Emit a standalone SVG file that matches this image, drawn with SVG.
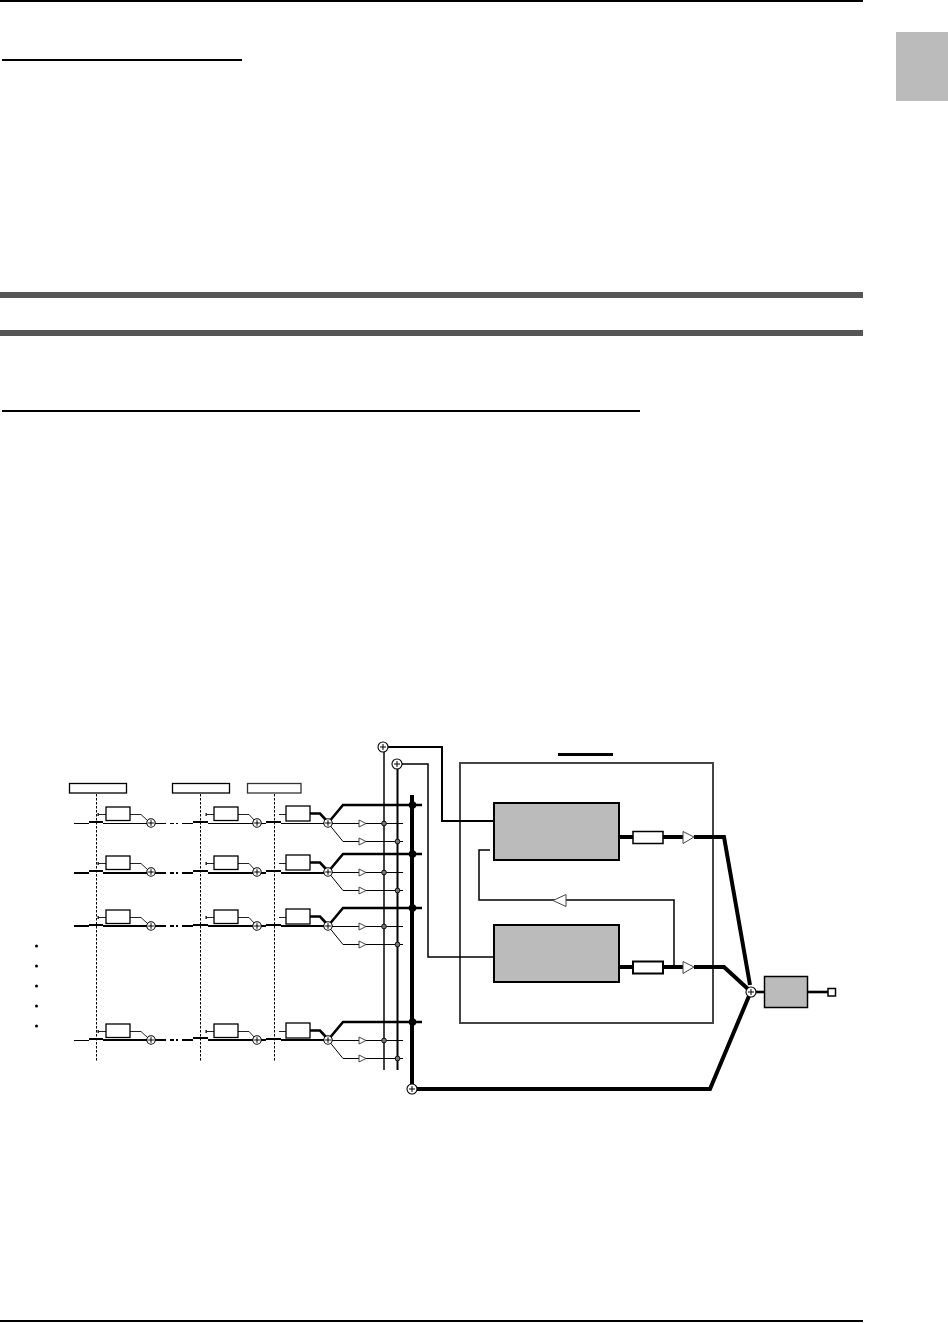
<svg xmlns="http://www.w3.org/2000/svg" width="948" height="1323" viewBox="0 0 948 1323">
<style>
.l{fill:none;stroke:#000;stroke-width:1}
.g{fill:none;stroke:#222;stroke-width:1}
.m{fill:none;stroke:#000;stroke-width:2}
.t{fill:none;stroke:#000;stroke-width:2.600}
.h{fill:none;stroke:#000;stroke-width:4}
.b{fill:#fff;stroke:#000;stroke-width:1.300}
.k{fill:#bbb;stroke:#000;stroke-width:2}
.s{fill:#fff;stroke:#000;stroke-width:1.100}
.tri{fill:#fff;stroke:#444;stroke-width:1}
.d{fill:none;stroke:#000;stroke-width:1;stroke-dasharray:2.500 1.500}
.j{fill:#777;stroke:#000;stroke-width:.9}
</style>
<defs>
<g id="sum"><circle r="4.200" class="s"/><path d="M-2.800 0H2.800M0-2.800V2.800" class="l"/></g>
<g id="bigsum"><circle r="5" class="s"/><path d="M-3 0H3M0-3V3" class="l"/></g>
<g id="chan">
<path d="M98 814.500H106M130 814.500H141L148 821" class="g"/><path d="M98 813L99 814.500L98 816Z" class="g"/>
<path d="M206 814.500H214M238 814.500H249L255 821" class="g"/>
<path d="M206 813L207 814.500L206 816Z" class="g"/>
<path d="M279 814.500H286" class="g"/>
<rect x="106" y="807" width="24" height="13.500" class="b"/>
<rect x="214" y="807" width="24" height="13.500" class="b"/>
<rect x="286" y="806" width="24" height="15" class="b"/>
<use href="#sum" x="151" y="823"/><use href="#sum" x="257" y="823"/>
<path d="M310 813.500H320L326 820" class="t"/>
<path d="M328 823L343 805H422" class="t"/>
<path d="M328 823.500H403M328 823L343 841.500H403" class="l"/>
<path d="M359 820L366 823.500L359 827Z" class="tri"/>
<path d="M359 838L366 841.500L359 845Z" class="tri"/>
<use href="#sum" x="328" y="823"/>
<circle cx="384" cy="823.500" r="2.400" class="j"/><circle cx="397.500" cy="841.500" r="2.400" class="j"/>
</g>
</defs>

<g id="page">
<rect x="0" y="0" width="863" height="2" fill="#000"/>
<rect x="2" y="59" width="240" height="2" fill="#000"/>
<rect x="896" y="32" width="52" height="69" fill="#bbb"/>
<rect x="0" y="292" width="863" height="6" fill="#555"/>
<rect x="0" y="330" width="863" height="6" fill="#555"/>
<rect x="2" y="410" width="638" height="2" fill="#000"/>
<rect x="0" y="1320" width="863" height="2" fill="#000"/>
</g>

<g id="outer-box"><rect x="460" y="763" width="253" height="260" fill="none" stroke="#444" stroke-width="2"/>
<rect x="558" y="753" width="55" height="3" fill="#000"/></g>

<g id="connectors">
<path d="M96.500 794V1061M200.500 794V1061M274.500 794V1061" class="d"/>
<path d="M384 747V1070" fill="none" stroke="#444" stroke-width="2"/>
<path d="M397.500 764V1070" class="m"/>
<path d="M412 795V1089" class="h"/>
<path d="M387 747H442V821H494" class="m"/>
<path d="M401 764H428V957H494" fill="none" stroke="#000" stroke-width="1.500"/>
<path d="M490 850H479V900H674V967" fill="none" stroke="#000" stroke-width="1.500"/>
<path d="M619 837H633M663 837H683M694 837H724L750 985" class="h"/>
<path d="M619 967H633M663 967H683M694 967H724L748 989" class="h"/>
<path d="M416 1089H710L749 996" class="h"/>
<path d="M755 992H764" class="t"/><path d="M807 992H828" class="t"/>
<g id="row-lines">
<path d="M74 823.500H89M103 823.500H147M155 823.500H166M182 823.500H193M208 823.500H253M261 823.500H266M281 823.500H325" class="l"/>
<path d="M89 822H103M193 822H208M266 822H281" class="m"/>
<path d="M170 823.500H174M176 823.500H178" class="l"/>
<path d="M74 873H89M103 873H147M155 873H166M182 873H193M208 873H253M261 873H266M281 873H325" class="m"/>
<path d="M89 871H103M193 871H208M266 871H281" class="m"/>
<path d="M170 873H174M176 873H178" class="m"/>
<path d="M74 926H89M103 926H147M155 926H166M182 926H193M208 926H253M261 926H266M281 926H325" class="m"/>
<path d="M89 925H103M193 925H208M266 925H281" class="m"/>
<path d="M170 926H174M176 926H178" class="m"/>
<path d="M74 1040.500H89" class="l"/>
<path d="M103 1040H147M155 1040H166M182 1040H193M208 1040H253M261 1040H266M281 1040H325" class="m"/>
<path d="M89 1039H103M193 1038H208M266 1039H281" class="m"/>
<path d="M170 1040H174M176 1040H178" class="m"/>
</g>
</g>

<g id="label-boxes">
<rect x="69.500" y="783.500" width="57" height="9.500" class="b"/>
<rect x="172.500" y="783.500" width="57" height="9.500" class="b"/>
<rect x="247.500" y="783.500" width="53.500" height="9.500" fill="#fff" stroke="#333" stroke-width="1.300"/>
</g>

<g id="row-1"><use href="#chan"/></g>
<g id="row-2"><use href="#chan" y="49"/></g>
<g id="row-3"><use href="#chan" y="103"/></g>
<g id="row-4"><use href="#chan" y="217"/></g>

<g id="row-dots" fill="#000">
<circle cx="36.500" cy="946" r="1.500"/><circle cx="36.500" cy="966" r="1.500"/><circle cx="36.500" cy="986" r="1.500"/><circle cx="36.500" cy="1006" r="1.500"/><circle cx="36.500" cy="1026" r="1.500"/>
</g>

<g id="bus-junctions" fill="#000">
<circle cx="412.500" cy="805" r="3.800"/><circle cx="412.500" cy="854" r="3.800"/><circle cx="412.500" cy="908" r="3.800"/><circle cx="412.500" cy="1022" r="3.800"/>
</g>
<g id="sum-a"><use href="#bigsum" x="383" y="747"/></g>
<g id="sum-b"><use href="#bigsum" x="397" y="764"/></g>
<g id="sum-c"><use href="#bigsum" x="412" y="1089"/></g>
<g id="sum-d"><use href="#bigsum" x="751" y="992"/></g>

<g id="block-a"><rect x="494" y="803" width="125" height="57" class="k"/></g>
<g id="block-b"><rect x="494" y="925" width="125" height="57" class="k"/></g>
<g id="block-c"><rect x="764.500" y="976.500" width="43" height="31" fill="#bbb" stroke="#000" stroke-width="1.500"/></g>
<g id="box-a"><rect x="633" y="831.500" width="30" height="12" fill="#fff" stroke="#000" stroke-width="1.500"/></g>
<g id="box-b"><rect x="633" y="961.500" width="30" height="12" fill="#fff" stroke="#000" stroke-width="2"/></g>
<g id="tri-a"><path d="M683 831.500L694 837L683 843.500Z" class="tri"/></g>
<g id="tri-b"><path d="M683 961.500L694 967L683 973.500Z" class="tri"/></g>
<g id="tri-fb"><path d="M566 894.500L553 900.500L566 906.500Z" class="tri"/></g>
<g id="out"><rect x="828" y="988.500" width="7.500" height="7.500" fill="#fff" stroke="#000" stroke-width="1.500"/></g>
</svg>
